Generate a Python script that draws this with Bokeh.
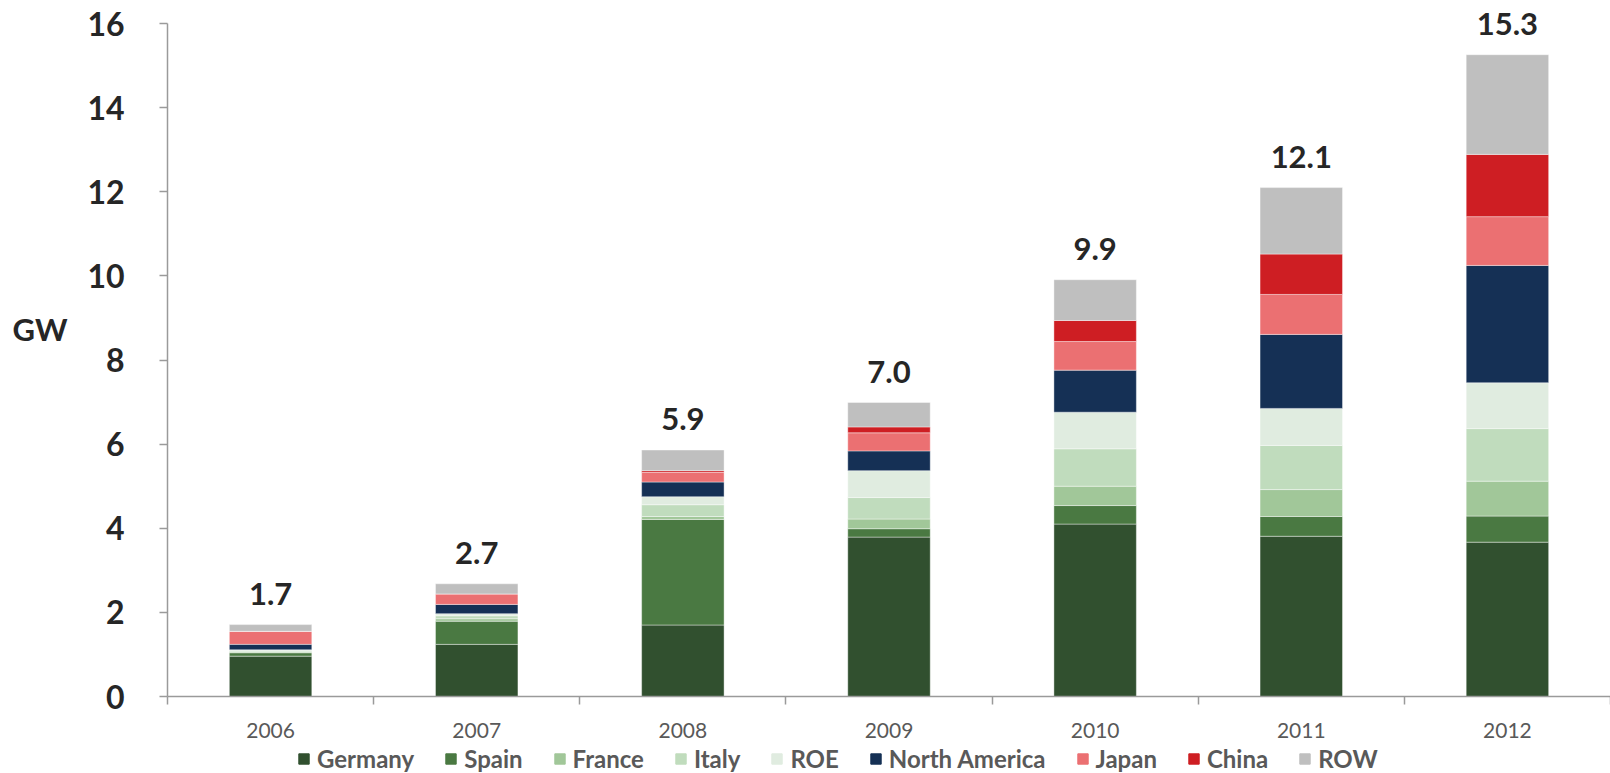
from bokeh.plotting import figure
from bokeh.models import (ColumnDataSource, FixedTicker, Legend, LegendItem,
                          LabelSet, Label, Range1d)
from bokeh.layouts import column, row
from bokeh.core.properties import value
from bokeh.embed import file_html
from bokeh.resources import INLINE

# ---- data ----
years = ["2006", "2007", "2008", "2009", "2010", "2011", "2012"]
germany = [0.96, 1.24, 1.70, 3.79, 4.10, 3.81, 3.67]
spain = [0.08, 0.55, 2.51, 0.20, 0.44, 0.47, 0.62]
france = [0.02, 0.06, 0.07, 0.23, 0.46, 0.64, 0.83]
italy = [0.02, 0.07, 0.28, 0.51, 0.89, 1.05, 1.25]
roe = [0.03, 0.05, 0.19, 0.64, 0.87, 0.88, 1.09]
north_america = [0.13, 0.22, 0.35, 0.47, 1.00, 1.76, 2.79]
japan = [0.31, 0.25, 0.23, 0.43, 0.68, 0.95, 1.16]
china = [0.00, 0.00, 0.04, 0.14, 0.50, 0.96, 1.48]
row_vals = [0.16, 0.24, 0.49, 0.58, 0.97, 1.58, 2.37]
series_names = ["Germany", "Spain", "France", "Italy", "ROE",
                "North America", "Japan", "China", "ROW"]
series_values = [germany, spain, france, italy, roe, north_america, japan, china, row_vals]
colors = ["#31502F", "#4A7942", "#A1C799", "#C0DCBD", "#E0ECE0",
          "#153055", "#EB7072", "#CE1E23", "#BFBFBF"]
y_ticks = [0, 2, 4, 6, 8, 10, 12, 14, 16]
y_label = "GW"

FONT = "Lato"
GW_WIDTH = 80
MAIN_H = 741
LEG_H = 32

xs = list(range(len(years)))
data = {"x": xs}
for name, vals in zip(series_names, series_values):
    data[name] = vals
src = ColumnDataSource(data)

totals = [sum(v[i] for v in series_values) for i in range(len(years))]
tot_src = ColumnDataSource({"x": xs, "total": totals,
                            "label": ["%.1f" % t for t in totals]})

y_range = Range1d(0, 16.43)

p = figure(width=1610 - GW_WIDTH, height=MAIN_H, output_backend="svg", toolbar_location=None,
           x_range=Range1d(-0.5, len(years) - 0.5), y_range=y_range)
p.min_border_left = 167 - GW_WIDTH
p.min_border_right = 0
p.min_border_top = 5
p.min_border_bottom = MAIN_H - 696
p.outline_line_color = None
p.grid.visible = False
p.background_fill_color = "white"
p.border_fill_color = "white"

renderers = p.vbar_stack(series_names, x="x", width=0.4, color=colors, source=src,
                         line_color="white", line_width=0.8, line_alpha=0.5)

# y axis
ya = p.yaxis[0]
ya.ticker = FixedTicker(ticks=y_ticks)
ya.bounds = (y_ticks[0], y_ticks[-1])
ya.axis_line_color = "#9a9a9a"
ya.axis_line_width = 1.5
ya.major_tick_line_color = "#9a9a9a"
ya.major_tick_line_width = 1.5
ya.major_tick_out = 8
ya.major_tick_in = 0
ya.minor_tick_line_color = None
ya.major_label_standoff = 35
ya.major_label_text_font = FONT
ya.major_label_text_font_style = "bold"
ya.major_label_text_font_size = "32px"
ya.major_label_text_color = "#262626"

# x axis
xa = p.xaxis[0]
xa.ticker = FixedTicker(ticks=xs, minor_ticks=[i - 0.5 for i in range(len(years) + 1)])
xa.major_label_overrides = {i: y for i, y in zip(xs, years)}
xa.axis_line_color = "#9a9a9a"
xa.axis_line_width = 1.5
xa.major_tick_line_color = None
xa.major_tick_out = 0
xa.major_tick_in = 0
xa.minor_tick_line_color = "#9a9a9a"
xa.minor_tick_line_width = 1.5
xa.minor_tick_out = 8
xa.minor_tick_in = 0
xa.major_label_standoff = 18
xa.major_label_text_font = FONT
xa.major_label_text_font_size = "21px"
xa.major_label_text_color = "#595959"

labels = LabelSet(x="x", y="total", text="label", source=tot_src, y_offset=20,
                  text_align="center", text_baseline="alphabetic",
                  text_font=value(FONT), text_font_style="bold",
                  text_font_size="31px", text_color="#262626")
p.add_layout(labels)

# ---- left strip holding the "GW" unit label ----
g = figure(width=GW_WIDTH, height=MAIN_H, output_backend="svg", toolbar_location=None,
           x_range=Range1d(0, GW_WIDTH), y_range=y_range)
g.min_border_left = 0
g.min_border_right = 0
g.min_border_top = 5
g.min_border_bottom = MAIN_H - 696
g.axis.visible = False
g.grid.visible = False
g.outline_line_color = None
gw = Label(x=67, y=8.73, text=y_label, text_align="right",
           text_baseline="alphabetic", text_font=FONT, text_font_style="bold",
           text_font_size="31px", text_color="#262626")
g.add_layout(gw)

# ---- legend strip (same stacked renderers, with the bars kept out of view) ----
lf = figure(width=1610, height=LEG_H, output_backend="svg", toolbar_location=None,
            x_range=Range1d(1000, 1001), y_range=Range1d(1000, 1001))
lf.min_border = 0
lf.axis.visible = False
lf.grid.visible = False
lf.outline_line_color = None
leg_renderers = lf.vbar_stack(series_names, x="x", width=0.4, color=colors, source=src)
legend = Legend(items=[LegendItem(label=n, renderers=[r]) for n, r in zip(series_names, leg_renderers)],
                orientation="horizontal", location=(297, 0),
                glyph_width=13, glyph_height=13, label_standoff=7, spacing=30,
                padding=0, margin=0, border_line_color=None, background_fill_alpha=0,
                label_height=13, label_text_line_height=0.9,
                label_text_font=FONT, label_text_font_style="bold",
                label_text_font_size="24px", label_text_color="#595959")
lf.add_layout(legend)

layout = column(row(g, p), lf)
open("out.html", "w").write(file_html(layout, INLINE))
